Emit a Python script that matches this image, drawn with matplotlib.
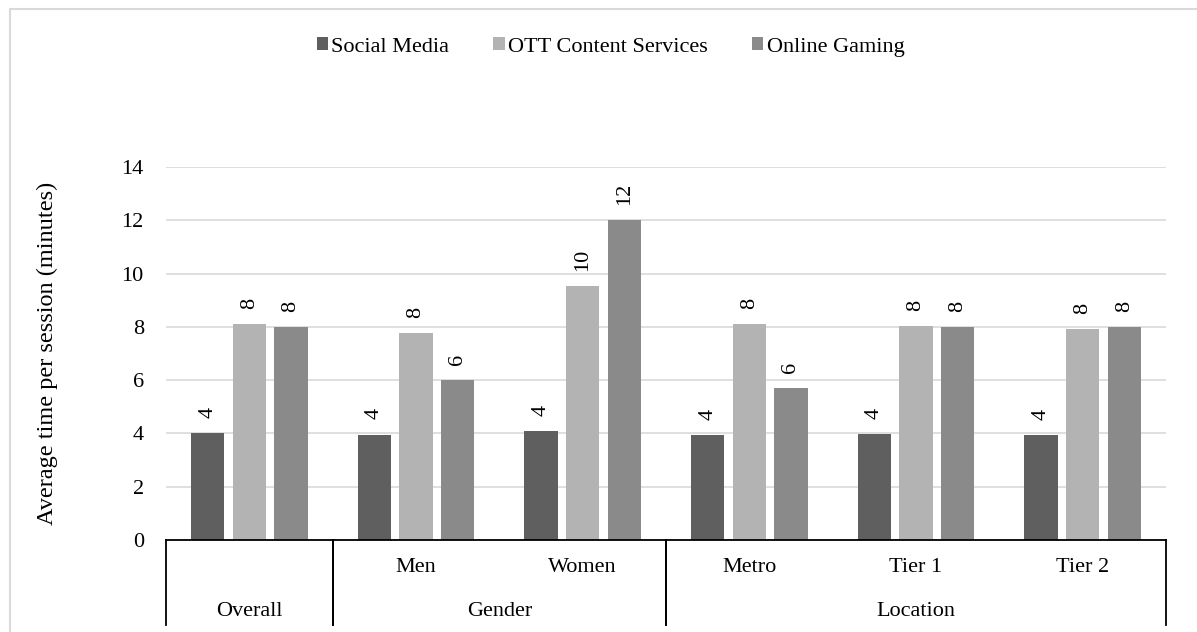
import numpy as np
import matplotlib
matplotlib.use("Agg")
import matplotlib.pyplot as plt
import matplotlib.transforms as mtransforms
from matplotlib.lines import Line2D
from matplotlib.patches import Rectangle

# dane
kategorie = ["Overall", "Men", "Women", "Metro", "Tier 1", "Tier 2"]
podpisy = ["", "Men", "Women", "Metro", "Tier 1", "Tier 2"]
grupy = ["Overall", "Gender", "Location"]
grupy_od = [0, 1, 3]
grupy_do = [0, 2, 5]

serie = ["Social Media", "OTT Content Services", "Online Gaming"]
social = [4.0, 3.95, 4.08, 3.94, 3.97, 3.94]
ott = [8.1, 7.77, 9.52, 8.1, 8.02, 7.91]
gaming = [8.0, 6.0, 12.0, 5.71, 8.0, 8.0]

kolory = ["#5f5f5f", "#b3b3b3", "#8a8a8a"]

plt.rcParams["font.family"] = ["Liberation Serif", "DejaVu Serif"]
plt.rcParams["font.size"] = 16

W, H = 1197, 632
fig = plt.figure(figsize=(W / 100, H / 100), dpi=100)
ax = fig.add_axes([166 / W, 1 - 540 / H, 1000 / W, 373 / H])

x = np.arange(len(kategorie))
szer = 0.2
przes = [-0.25, 0, 0.25]
for dane, kolor, nazwa, dx in zip([social, ott, gaming], kolory, serie, przes):
    slupki = ax.bar(x + dx, dane, szer, color=kolor, label=nazwa, zorder=3)
    for s, v in zip(slupki, dane):
        ax.annotate(f"{v:.0f}", (s.get_x() + s.get_width() / 2, v),
                    xytext=(0, 11), textcoords="offset points",
                    ha="center", va="bottom", rotation=90, fontsize=16)

ax.set_xlim(-0.5, len(kategorie) - 0.5)
ax.set_ylim(0, 14)
ax.set_yticks(np.arange(0, 15, 2))
ax.set_xticks([])
ax.tick_params(axis="y", length=0, pad=16)
ax.yaxis.grid(True, color="#d9d9d9", linewidth=1.2, zorder=0)
for sp in ax.spines.values():
    sp.set_visible(False)
ax.set_ylabel("Average time per session (minutes)", fontsize=17.5, labelpad=46)

# tabela z kategoriami pod osia
tr = mtransforms.blended_transform_factory(ax.transData, fig.transFigure)
y_gora = 1 - 540 / H
y_dol = 1 - 625 / H
fig.add_artist(Line2D([-0.5, len(kategorie) - 0.5], [y_gora, y_gora], transform=tr,
                      color="black", linewidth=1.3))
for g_od, g_do in zip(grupy_od, grupy_do):
    for xx in (g_od - 0.5, g_do + 0.5):
        fig.add_artist(Line2D([xx, xx], [y_gora, y_dol], transform=tr,
                              color="black", linewidth=1.3))
for xi, p in zip(x, podpisy):
    fig.text(xi, 1 - 568 / H, p, transform=tr, ha="center", va="center")
for g, g_od, g_do in zip(grupy, grupy_od, grupy_do):
    fig.text((g_od + g_do) / 2, 1 - 612 / H, g, transform=tr, ha="center", va="center")

# legenda
fig.legend(loc="center", bbox_to_anchor=(0.51, 1 - 47 / H), ncol=3, frameon=False,
           handlelength=0.5, handleheight=0.5, handletextpad=0.15, columnspacing=2.0)

# ramka wykresu
fig.add_artist(Rectangle((9.5 / W, -0.1), 1.2, 1.1 - 8.5 / H, transform=fig.transFigure,
                         fill=False, edgecolor="#d9d9d9", linewidth=1.5))

fig.savefig("out.png", dpi=100)
